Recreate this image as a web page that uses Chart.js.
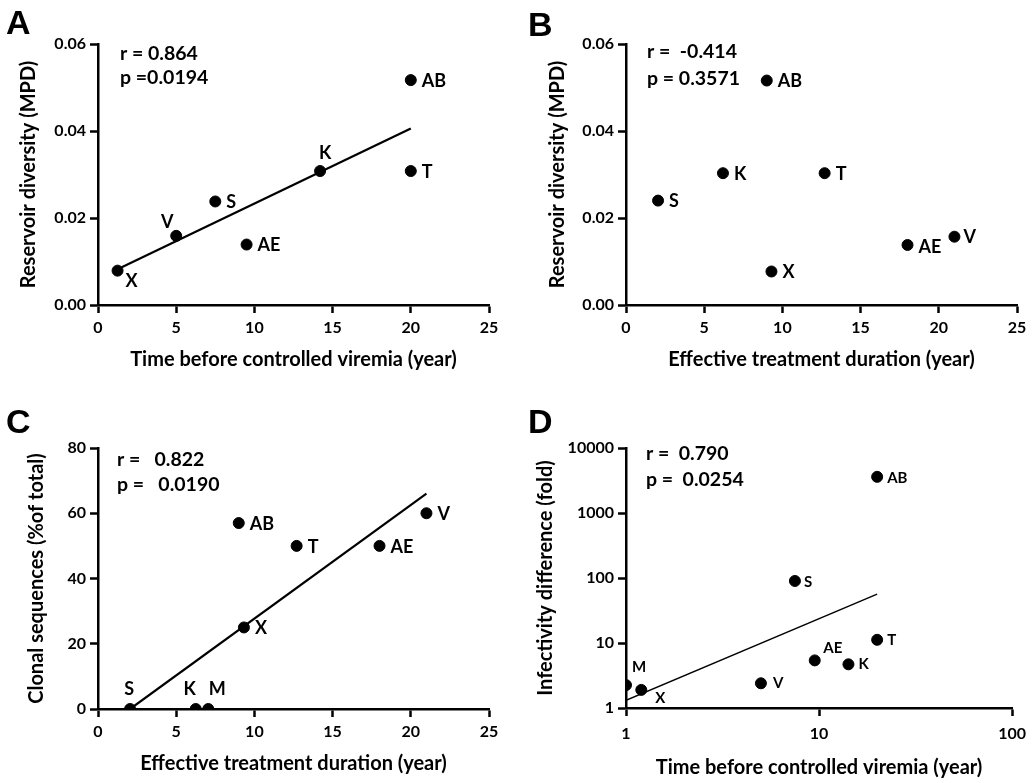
<!DOCTYPE html>
<html>
<head>
<meta charset="utf-8">
<script src="https://cdn.jsdelivr.net/npm/chart.js@4.4.1/dist/chart.umd.min.js"></script>
<style>
  body { margin: 0; background: #fff; width: 1034px; height: 783px; position: relative; overflow: hidden; }
  .panel { position: absolute; }
  .letter { position: absolute; font: bold 34px "Liberation Sans", Arial, sans-serif; color: #000; line-height: 1; }
</style>
</head>
<body>
<div class="panel" style="left:0;top:0"><canvas id="chartA" width="517" height="390"></canvas></div>
<div class="panel" style="left:517px;top:0"><canvas id="chartB" width="517" height="390"></canvas></div>
<div class="panel" style="left:0;top:390px"><canvas id="chartC" width="517" height="393"></canvas></div>
<div class="panel" style="left:517px;top:390px"><canvas id="chartD" width="517" height="393"></canvas></div>
<div class="letter" style="left:6px;top:5px">A</div>
<div class="letter" style="left:528px;top:7px">B</div>
<div class="letter" style="left:6px;top:404px">C</div>
<div class="letter" style="left:528px;top:404px">D</div>
<script>
// panel A: reservoir diversity vs time before controlled viremia
const namesA = ['X', 'V', 'S', 'AE', 'K', 'T', 'AB'];
const timeA = [1.25, 5, 7.5, 9.5, 14.2, 20, 20];
const mpdA = [0.0079, 0.0159, 0.0238, 0.0139, 0.0308, 0.0308, 0.0517];
const fitA = [[1.25, 0.0082], [20, 0.0406]];
const statsA = ['r = 0.864', 'p =0.0194'];

// panel B: reservoir diversity vs effective treatment duration
const namesB = ['S', 'K', 'AB', 'T', 'X', 'AE', 'V'];
const durB = [2.05, 6.2, 9.0, 12.7, 9.3, 18.0, 21.0];
const mpdB = [0.024, 0.0303, 0.0516, 0.0303, 0.0077, 0.0138, 0.0157];
const statsB = ['r =  -0.414', 'p = 0.3571'];

// panel C: clonal sequences vs effective treatment duration
const namesC = ['S', 'K', 'M', 'X', 'AB', 'T', 'AE', 'V'];
const durC = [2.05, 6.25, 7.05, 9.33, 9.0, 12.7, 18.0, 21.0];
const clonalC = [0, 0, 0, 25, 57, 50, 50, 60];
const fitC = [[2.05, 0], [21, 66]];
const statsC = ['r =   0.822', 'p =   0.0190'];

// panel D: infectivity difference vs time before controlled viremia (log-log)
const namesD = ['M', 'X', 'V', 'S', 'AE', 'K', 'T', 'AB'];
const timeD = [1.0, 1.2, 5.0, 7.5, 9.5, 14.2, 20, 20];
const foldD = [2.25, 1.9, 2.4, 90, 5.4, 4.7, 11.2, 3600];
const fitD = [[1, 1.31], [20, 56.6]];
const statsD = ['r =  0.790', 'p =  0.0254'];
const logTicksX = [1, 10, 100];
const logTicksY = [1, 10, 100, 1000, 10000];

const FONT = 'Lato, "Open Sans", sans-serif';

const pointLabels = {
  id: 'pointLabels',
  afterDatasetsDraw(chart, args, opts) {
    const ctx = chart.ctx;
    const meta = chart.getDatasetMeta(0);
    ctx.save();
    ctx.fillStyle = '#000';
    ctx.font = 'bold ' + opts.size + 'px ' + FONT;
    ctx.textBaseline = 'middle';
    meta.data.forEach((pt, i) => {
      const name = opts.names[i];
      const pos = (opts.pos && opts.pos[name]) || [11, 1, 'left'];
      ctx.textAlign = pos[2] || 'left';
      ctx.fillText(name, pt.x + pos[0], pt.y + pos[1]);
    });
    const a = chart.chartArea;
    ctx.font = 'bold 19.5px ' + FONT;
    ctx.textAlign = 'left';
    opts.stats.forEach((s, i) => {
      ctx.fillText(s, a.left + opts.statX, a.top + opts.statY + i * opts.statGap);
    });
    ctx.restore();
  }
};

function axis(opts) {
  const s = {
    type: opts.type || 'linear',
    min: opts.min,
    max: opts.max,
    ticks: {
      color: '#000',
      padding: opts.tickPad,
      font: { family: FONT, size: 16, weight: 'bold' }
    },
    grid: { display: true, drawOnChartArea: false, drawTicks: true, tickLength: 8, tickColor: '#000', tickWidth: 2.5 },
    border: { display: true, color: '#000', width: 2.5 },
    title: {
      display: true, text: opts.title, color: '#000',
      font: { family: FONT, size: 20, weight: 'bold' },
      padding: opts.titlePad
    },
    afterFit: opts.fit
  };
  if (opts.step) s.ticks.stepSize = opts.step;
  if (opts.ticks) {
    s.afterBuildTicks = sc => { sc.ticks = opts.ticks.map(v => ({ value: v })); };
    s.ticks.callback = v => String(v);
  }
  if (opts.fmt) s.ticks.callback = opts.fmt;
  return s;
}

function makePanel(id, cfg) {
  const pts = cfg.xs.map((x, i) => ({ x: x, y: cfg.ys[i] }));
  const datasets = [{
    data: pts, backgroundColor: '#000', borderColor: '#000',
    pointRadius: 5.5, pointHoverRadius: 5.5, showLine: false
  }];
  if (cfg.fit) {
    datasets.push({
      data: cfg.fit.map(p => ({ x: p[0], y: p[1] })),
      showLine: true, borderColor: '#000', borderWidth: cfg.fitWidth || 2.2,
      pointRadius: 0, fill: false
    });
  }
  return new Chart(document.getElementById(id), {
    type: 'scatter',
    data: { datasets: datasets },
    options: {
      responsive: false,
      animation: false,
      layout: { padding: cfg.pad },
      plugins: {
        legend: { display: false },
        tooltip: { enabled: false },
        pointLabels: {
          names: cfg.names, pos: cfg.pos, size: cfg.labelSize || 18,
          stats: cfg.stats, statX: cfg.statX, statY: cfg.statY, statGap: cfg.statGap || 24
        }
      },
      scales: { x: cfg.x, y: cfg.y }
    },
    plugins: [pointLabels]
  });
}

makePanel('chartA', {
  xs: timeA, ys: mpdA, names: namesA, fit: fitA, stats: statsA,
  statX: 22, statY: 10, statGap: 24,
  pad: { left: 0, top: 44, right: 28, bottom: 0 },
  pos: { K: [5, -18, 'center'], V: [-9, -14, 'center'], X: [14, 11, 'center'] },
  x: axis({ min: 0, max: 25, step: 5, tickPad: 5, title: 'Time before controlled viremia (year)',
            titlePad: { top: 0, bottom: 18 }, fit: s => { s.height = 85; } }),
  y: axis({ min: 0, max: 0.06, step: 0.02, tickPad: 4, title: 'Reservoir diversity (MPD)',
            titlePad: { top: 17, bottom: 0 }, fit: s => { s.width = 98; }, fmt: v => v.toFixed(2) })
});

makePanel('chartB', {
  xs: durB, ys: mpdB, names: namesB, stats: statsB,
  statX: 21, statY: 8, statGap: 27,
  pad: { left: 0, top: 44, right: 17, bottom: 0 },
  pos: { V: [9, 0, 'left'], AE: [11, 2, 'left'] },
  x: axis({ min: 0, max: 25, step: 5, tickPad: 5, title: 'Effective treatment duration (year)',
            titlePad: { top: 0, bottom: 18 }, fit: s => { s.height = 85; } }),
  y: axis({ min: 0, max: 0.06, step: 0.02, tickPad: 4, title: 'Reservoir diversity (MPD)',
            titlePad: { top: 29, bottom: 0 }, fit: s => { s.width = 109; }, fmt: v => v.toFixed(2) })
});

makePanel('chartC', {
  xs: durC, ys: clonalC, names: namesC, fit: fitC, stats: statsC,
  statX: 19, statY: 12, statGap: 25,
  pad: { left: 0, top: 58, right: 28, bottom: 0 },
  pos: { S: [-1, -20, 'center'], K: [-6, -20, 'center'], M: [9, -20, 'center'] },
  x: axis({ min: 0, max: 25, step: 5, tickPad: 5, title: 'Effective treatment duration (year)',
            titlePad: { top: 0, bottom: 7 }, fit: s => { s.height = 74; } }),
  y: axis({ min: 0, max: 80, step: 20, tickPad: 4, title: 'Clonal sequences (%of total)',
            titlePad: { top: 25, bottom: 0 }, fit: s => { s.width = 98; } })
});

makePanel('chartD', {
  xs: timeD, ys: foldD, names: namesD, fit: fitD, fitWidth: 1.4, stats: statsD, labelSize: 15,
  statX: 20, statY: 6, statGap: 26,
  pad: { left: 0, top: 58, right: 16, bottom: 0 },
  pos: { AE: [18, -12, 'center'], M: [13, -18, 'center'], X: [19, 8, 'center'], V: [12, 0, 'left'], S: [9, 1, 'left'], AB: [10, 1, 'left'], T: [10, 0, 'left'], K: [10, 0, 'left'] },
  x: axis({ type: 'logarithmic', min: 1, max: 100, ticks: logTicksX, tickPad: 8, title: 'Time before controlled viremia (year)',
            titlePad: { top: 0, bottom: 3 }, fit: s => { s.height = 75; } }),
  y: axis({ type: 'logarithmic', min: 1, max: 10000, ticks: logTicksY, tickPad: 4, title: 'Infectivity difference (fold)',
            titlePad: { top: 17, bottom: 0 }, fit: s => { s.width = 109; } })
});
</script>
</body>
</html>
